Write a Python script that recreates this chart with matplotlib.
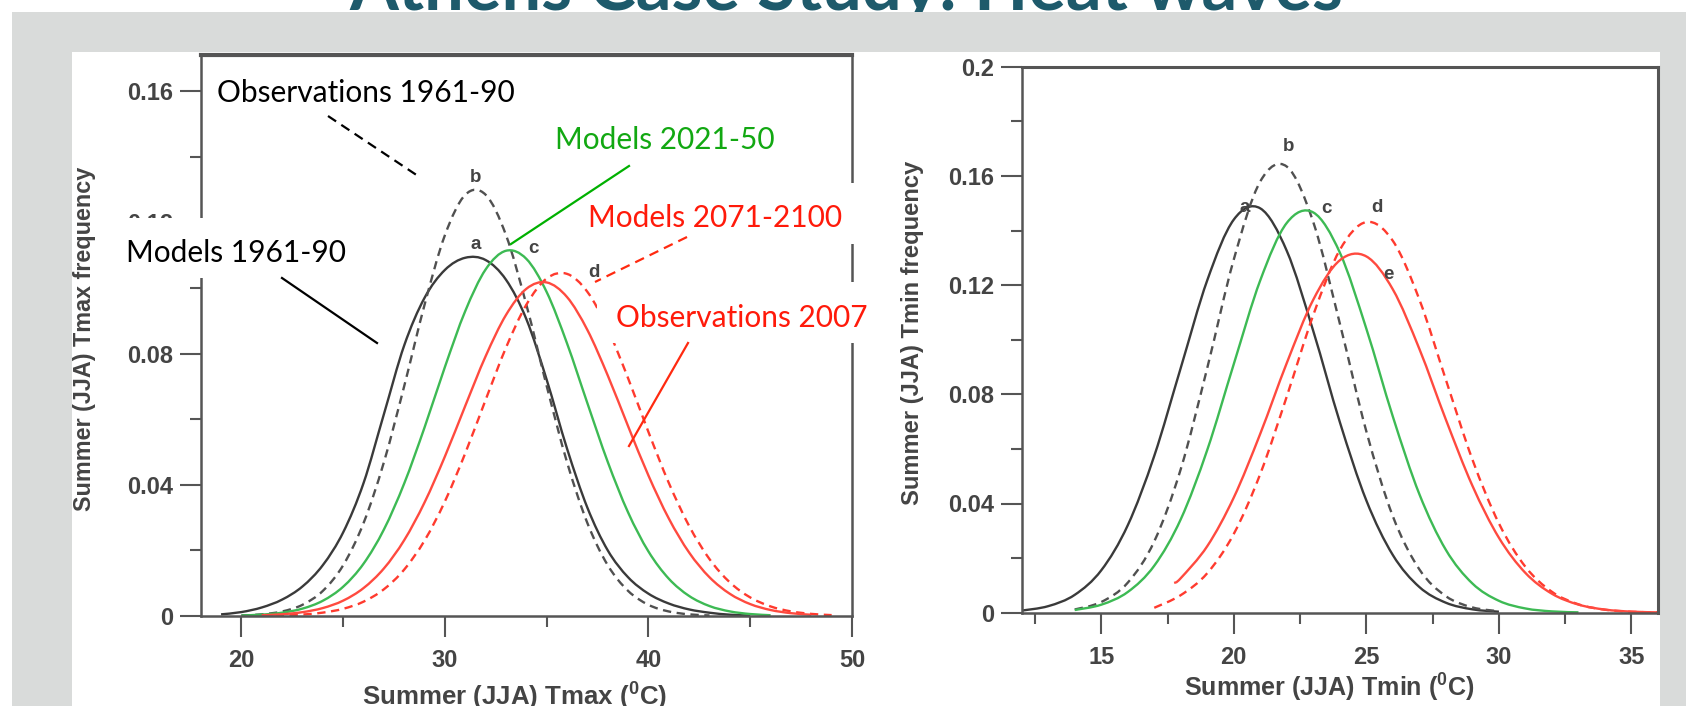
import matplotlib
matplotlib.use("Agg")
import matplotlib.pyplot as plt
import numpy as np
from matplotlib.patches import Rectangle, PathPatch
from matplotlib.lines import Line2D
from matplotlib.path import Path

plt.rcParams['font.family'] = ['Liberation Sans', 'DejaVu Sans']
plt.rcParams['lines.scale_dashes'] = False

W, H, DPI = 1686, 706, 100

# ---------------- Summer (JJA) Tmax frequency, Athens ----------------
tmax_t_models_6190 = list(range(19, 46))
tmax_models_6190 = [0.0005, 0.0012, 0.0026, 0.0050, 0.0090, 0.0155, 0.0255, 0.0405,
                    0.0615, 0.0825, 0.0970, 0.1055, 0.1092, 0.1085, 0.1025, 0.0905,
                    0.0720, 0.0510, 0.0330, 0.0200, 0.0118, 0.0068, 0.0038, 0.0020,
                    0.0010, 0.0004, 0.00015]
tmax_t_obs_6190 = list(range(20, 44))
tmax_obs_6190 = [0.00017, 0.0005, 0.00138, 0.00341, 0.00765, 0.01547, 0.02831, 0.04685,
                 0.0701, 0.0949, 0.1161, 0.1284, 0.1284, 0.1161, 0.0949, 0.0701,
                 0.04685, 0.02831, 0.01547, 0.00765, 0.00341, 0.00138, 0.0005, 0.00017]
tmax_t_models_2150 = list(range(20, 47))
tmax_models_2150 = [0.00016, 0.00042, 0.00101, 0.00225, 0.00465, 0.00893, 0.01593,
                    0.02635, 0.04042, 0.05751, 0.07593, 0.09298, 0.10564, 0.11133,
                    0.10886, 0.09873, 0.08308, 0.06485, 0.04696, 0.03156, 0.01966,
                    0.01136, 0.0061, 0.00303, 0.0014, 0.0006, 0.00024]
tmax_t_models_7100 = list(range(21, 50))
tmax_models_7100 = [0.00007, 0.00019, 0.00045, 0.00103, 0.0022, 0.00437, 0.00814,
                    0.01416, 0.02301, 0.03496, 0.04965, 0.06591, 0.0818, 0.09488,
                    0.10289, 0.10428, 0.0988, 0.08751, 0.07245, 0.05607, 0.04055,
                    0.02742, 0.01733, 0.01024, 0.00566, 0.00292, 0.00141, 0.00064,
                    0.00027]
tmax_t_obs_2007 = list(range(21, 49))
tmax_obs_2007 = [0.00023, 0.00053, 0.00117, 0.00242, 0.00469, 0.00851, 0.01449,
                 0.02313, 0.03464, 0.04865, 0.06408, 0.07919, 0.09176, 0.09973,
                 0.10167, 0.09721, 0.08717, 0.07332, 0.05784, 0.0428, 0.02971,
                 0.01933, 0.0118, 0.00676, 0.00363, 0.00183, 0.00086, 0.00038]

# ---------------- Summer (JJA) Tmin frequency, Athens ----------------
tmin_t_models_6190 = list(range(12, 31))
tmin_models_6190 = [0.00077, 0.0024, 0.00654, 0.01552, 0.03202, 0.05745, 0.0897,
                    0.1218, 0.1440, 0.1481, 0.1325, 0.1031, 0.0698, 0.0411, 0.0211,
                    0.0094, 0.00365, 0.00123, 0.00036]
tmin_t_obs_6190 = list(range(14, 31))
tmin_obs_6190 = [0.00118, 0.00391, 0.011, 0.02614, 0.05262, 0.0897, 0.1294, 0.1580,
                 0.1634, 0.143, 0.1059, 0.0664, 0.0353, 0.01586, 0.00604, 0.00194,
                 0.00053]
tmin_t_models_2150 = list(range(14, 34))
tmin_models_2150 = [0.00099, 0.00293, 0.00758, 0.01721, 0.03424, 0.05966, 0.0911,
                    0.1218, 0.1428, 0.1466, 0.1319, 0.104, 0.0718, 0.0434, 0.0230,
                    0.0107, 0.00435, 0.00155, 0.00048, 0.00013]
tmin_t_models_7100 = list(range(17, 37))
tmin_models_7100 = [0.0018, 0.00643, 0.01449, 0.02888, 0.05088, 0.07926, 0.1091,
                    0.1329, 0.1431, 0.1362, 0.1147, 0.0853, 0.0561, 0.0327, 0.0168,
                    0.00765, 0.00307, 0.00109, 0.00034, 0.0001]
tmin_t_obs_2007 = [17.75] + list(range(18, 37))
tmin_obs_2007 = [0.0109, 0.01266, 0.02439, 0.0422, 0.0656, 0.0915, 0.1147, 0.1291,
                 0.1305, 0.1184, 0.0966, 0.0707, 0.0465, 0.02745, 0.01456, 0.00694,
                 0.00297, 0.00114, 0.00039, 0.00012]

# ---------------- axes ticks ----------------
tmax_xticks = [20, 30, 40, 50]
tmax_xticks_minor = [25, 35, 45]
tmax_yticks = [0, 0.04, 0.08, 0.12, 0.16]
tmax_ytick_labels = ["0", "0.04", "0.08", "0.12", "0.16"]
tmax_yticks_minor = [0.02, 0.06, 0.10, 0.14]
tmin_xticks = [15, 20, 25, 30, 35]
tmin_xticks_minor = [12.5, 17.5, 22.5, 27.5, 32.5]
tmin_yticks = [0, 0.04, 0.08, 0.12, 0.16, 0.2]
tmin_ytick_labels = ["0", "0.04", "0.08", "0.12", "0.16", "0.2"]
tmin_yticks_minor = [0.02, 0.06, 0.10, 0.14, 0.18]

curve_keys = ["a", "b", "c", "d", "e"]
tmax_curves = {
    "a": (tmax_t_models_6190, tmax_models_6190),
    "b": (tmax_t_obs_6190, tmax_obs_6190),
    "c": (tmax_t_models_2150, tmax_models_2150),
    "d": (tmax_t_models_7100, tmax_models_7100),
    "e": (tmax_t_obs_2007, tmax_obs_2007),
}
tmin_curves = {
    "a": (tmin_t_models_6190, tmin_models_6190),
    "b": (tmin_t_obs_6190, tmin_obs_6190),
    "c": (tmin_t_models_2150, tmin_models_2150),
    "d": (tmin_t_models_7100, tmin_models_7100),
    "e": (tmin_t_obs_2007, tmin_obs_2007),
}

# letter tags beside the curve peaks (data coordinates)
tmax_tag_pos = {"a": (31.5, 0.1133), "b": (31.5, 0.1337), "c": (34.35, 0.1121),
                "d": (37.3, 0.1048), "e": (37.75, 0.0850)}
tmin_tag_pos = {"a": (20.4, 0.1486), "b": (22.07, 0.1706), "c": (23.5, 0.1479),
                "d": (25.4, 0.1486), "e": (25.85, 0.1237)}

DASH = (0, (6, 4))
curve_style = {
    "a": dict(color="#3a3a3a", ls="-"),
    "b": dict(color="#505050", ls=DASH),
    "c": dict(color="#3dba54", ls="-"),
    "d": dict(color="#ff3a2e", ls=DASH),
    "e": dict(color="#ff4a3f", ls="-"),
}

SPINE = "#555555"
TICKTXT = "#444444"
GREEN = "#12a812"
RED = "#ff1a0a"


def fx(x):
    return x / W


def fy(y):
    return 1 - y / H


def smooth_path(xs, ys):
    """Cubic Bezier (Catmull-Rom) path through the tabulated points."""
    xs = np.asarray(xs, float)
    ys = np.asarray(ys, float)
    n = len(xs)
    verts = [(xs[0], ys[0])]
    codes = [Path.MOVETO]
    for i in range(n - 1):
        x0, y0 = (xs[i - 1], ys[i - 1]) if i > 0 else (xs[i], ys[i])
        x3, y3 = (xs[i + 2], ys[i + 2]) if i + 2 < n else (xs[i + 1], ys[i + 1])
        c1 = (xs[i] + (xs[i + 1] - x0) / 6, ys[i] + (ys[i + 1] - y0) / 6)
        c2 = (xs[i + 1] - (x3 - xs[i]) / 6, ys[i + 1] - (y3 - ys[i]) / 6)
        verts += [c1, c2, (xs[i + 1], ys[i + 1])]
        codes += [Path.CURVE4] * 3
    return Path(verts, codes)


def draw_panel(ax, curves, tags, xlim, ylim, xt, xtm, yt, ytl, ytm):
    for k in curve_keys:
        t, v = curves[k]
        st = curve_style[k]
        ax.add_patch(PathPatch(smooth_path(t, v), fill=False, edgecolor=st["color"],
                               linestyle=st["ls"], linewidth=1.7, capstyle="butt"))
    for k in curve_keys:
        ax.text(*tags[k], k, ha="center", va="center", fontsize=13.5,
                fontweight="bold", color="#444444")
    ax.set_xlim(*xlim)
    ax.set_ylim(*ylim)
    ax.set_xticks(xt)
    ax.set_xticklabels([str(x) for x in xt], fontweight="bold")
    ax.set_xticks(xtm, minor=True)
    ax.set_yticks(yt)
    ax.set_yticklabels(ytl, fontweight="bold")
    ax.set_yticks(ytm, minor=True)
    ax.tick_params(which="major", direction="out", length=15, width=1.5, color=SPINE,
                   labelsize=17, labelcolor=TICKTXT)
    ax.tick_params(axis="x", which="major", pad=9)
    ax.tick_params(axis="y", which="major", pad=5)
    ax.tick_params(which="minor", direction="out", length=8, width=1.5, color=SPINE)
    for s in ax.spines.values():
        s.set_color(SPINE)
        s.set_linewidth(1.8)


fig = plt.figure(figsize=(W / DPI, H / DPI), dpi=DPI, facecolor="white")

# slide background
fig.add_artist(Rectangle((fx(12), 0), 1 - fx(12), fy(12), transform=fig.transFigure,
                         facecolor="#d9dbda", edgecolor="none", zorder=-2))
fig.add_artist(Rectangle((fx(72), 0), fx(1660) - fx(72), fy(52), transform=fig.transFigure,
                         facecolor="white", edgecolor="none", zorder=-1))
title = fig.text(fx(846), fy(10), "Athens Case Study: Heat waves", ha="center",
                 va="baseline", fontfamily="Lato", fontweight="bold", fontsize=48,
                 color="#1e5a6b", zorder=-3)

ax1 = fig.add_axes([fx(200.7), fy(616), fx(852) - fx(200.7), (616 - 55) / H])
ax2 = fig.add_axes([fx(1021.7), fy(612.7), fx(1658) - fx(1021.7), (612.7 - 66.7) / H])

draw_panel(ax1, tmax_curves, tmax_tag_pos, (18, 50), (0, 0.171),
           tmax_xticks, tmax_xticks_minor, tmax_yticks, tmax_ytick_labels, tmax_yticks_minor)
draw_panel(ax2, tmin_curves, tmin_tag_pos, (12, 36), (0, 0.2),
           tmin_xticks, tmin_xticks_minor, tmin_yticks, tmin_ytick_labels, tmin_yticks_minor)
ax1.spines["top"].set_linewidth(3.0)
ax2.spines["top"].set_linewidth(2.2)
ax2.spines["right"].set_linewidth(2.2)

lab_kw = dict(fontweight="bold", color="#444444", fontsize=16)
yl1 = fig.text(fx(85), fy(339), "Summer (JJA) Tmax frequency", rotation=90,
               ha="center", va="center", **lab_kw)
yl2 = fig.text(fx(913), fy(333), "Summer (JJA) Tmin frequency", rotation=90,
               ha="center", va="center", **lab_kw)
xl1 = fig.text(fx(515), fy(706), r"Summer (JJA) Tmax ($\mathregular{^{0}}$C)",
               ha="center", va="baseline", **lab_kw)
xl2 = fig.text(fx(1329), fy(697), r"Summer (JJA) Tmin ($\mathregular{^{0}}$C)",
               ha="center", va="baseline", **lab_kw)

# call-out boxes
notes = [
    ("Observations 1961-90", 217, 102, "black", (208, 68, 520, 114)),
    ("Models 1961-90", 126, 262, "black", (116, 218, 372, 278)),
    ("Models 2021-50", 555, 149, GREEN, (545, 115, 782, 160)),
    ("Models 2071-2100", 588, 227, RED, (578, 183, 862, 244)),
    ("Observations 2007", 616, 327, RED, (597, 282, 875, 343)),
]
leaders = [
    ((328, 116), (418, 176), "black", (0, (7, 4.5))),
    ((282, 278), (377, 343), "black", "-"),
    ((629, 166), (511, 244), "#00b000", "-"),
    ((687, 237), (595, 282), "#ff2a10", (0, (7, 4.5))),
    ((688, 343), (629, 446), "#ff2a10", "-"),
]

note_texts = []
for text, x, y, col, (bx0, by0, bx1, by1) in notes:
    fig.add_artist(Rectangle((fx(bx0), fy(by1)), fx(bx1) - fx(bx0), (by1 - by0) / H,
                             transform=fig.transFigure, facecolor="white",
                             edgecolor="none", zorder=4))
    note_texts.append(fig.text(fx(x), fy(y), text, ha="left", va="baseline",
                               fontfamily="Lato", fontsize=22, color=col, zorder=5))
for (x0, y0), (x1, y1), col, ls in leaders:
    fig.add_artist(Line2D([fx(x0), fx(x1)], [fy(y0), fy(y1)], transform=fig.transFigure,
                          color=col, linewidth=1.6, linestyle=ls, zorder=6))

# size texts to their measured extents
renderer = fig.canvas.get_renderer()


def fit(txt, target, vertical=False):
    bb = txt.get_window_extent(renderer)
    cur = bb.height if vertical else bb.width
    txt.set_fontsize(txt.get_fontsize() * target / cur)


fit(title, 993)
fit(note_texts[0], 296)
for t in note_texts[1:]:
    t.set_fontsize(note_texts[0].get_fontsize())
fit(yl1, 344, vertical=True)
fit(yl2, 344, vertical=True)
fit(xl1, 306)
fit(xl2, 292)

fig.savefig("out.png", dpi=DPI, facecolor="white")
